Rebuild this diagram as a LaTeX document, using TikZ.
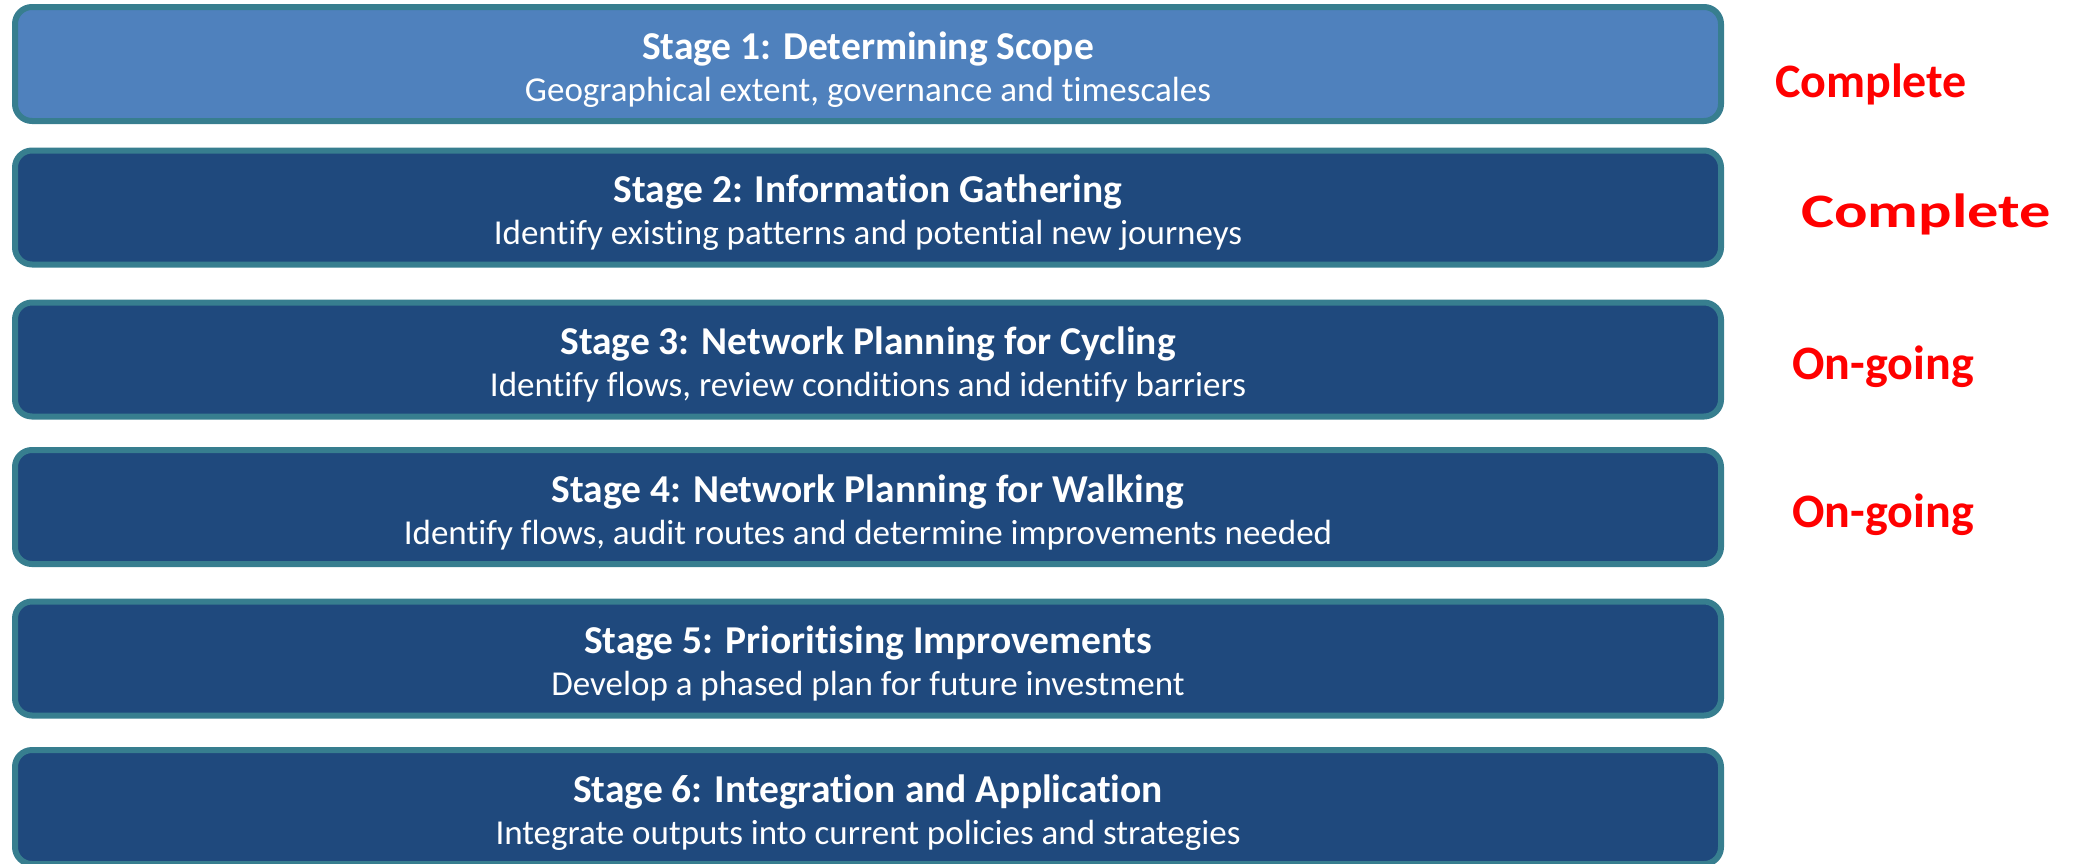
\documentclass[tikz,border=0pt]{standalone}
\usepackage{fontspec}
\setmainfont{Carlito}[Ligatures=NoCommon]
\definecolor{boxlight}{HTML}{4F81BD}
\definecolor{boxdark}{HTML}{1F497D}
\definecolor{boxedge}{HTML}{377E8F}
\definecolor{statusred}{HTML}{FF0000}
\begin{document}
\begin{tikzpicture}[x=1pt,y=-1pt,
  stagebox/.style={draw=boxedge, line width=6pt, rounded corners=17pt,
    minimum width=1706pt, minimum height=114pt, inner sep=0pt},
  stagetitle/.style={text=white, font=\fontsize{39.5}{42}\selectfont\bfseries, anchor=base},
  stagesub/.style={text=white, font=\fontsize{35}{38}\selectfont, anchor=base},
  status/.style={text=statusred, font=\fontsize{48}{52}\selectfont\bfseries, anchor=base}]
\useasboundingbox (0,0) rectangle (2076,863);
\clip (0,0) rectangle (2076,863);

% stage boxes
\node[stagebox, fill=boxlight] (s1) at (868,64) {};
\node[stagebox, fill=boxdark]  (s2) at (868,207.5) {};
\node[stagebox, fill=boxdark]  (s3) at (868,359.5) {};
\node[stagebox, fill=boxdark]  (s4) at (868,507) {};
\node[stagebox, fill=boxdark]  (s5) at (868,658.5) {};
\node[stagebox, fill=boxdark]  (s6) at (868,807) {};

% titles and descriptions
\node[stagetitle] (t1) at (868,59) {Stage 1: Determining Scope};
\node[stagesub]   (d1) at (868,101) {Geographical extent, governance and timescales};
\node[stagetitle] (t2) at (868,202.5) {Stage 2: Information Gathering};
\node[stagesub]   (d2) at (868,244.5) {Identify existing patterns and potential new journeys};
\node[stagetitle] (t3) at (868,354.5) {Stage 3: Network Planning for Cycling};
\node[stagesub]   (d3) at (868,396.5) {Identify flows, review conditions and identify barriers};
\node[stagetitle] (t4) at (868,502) {Stage 4: Network Planning for Walking};
\node[stagesub]   (d4) at (868,544) {Identify flows, audit routes and determine improvements needed};
\node[stagetitle] (t5) at (868,653.5) {Stage 5: Prioritising Improvements};
\node[stagesub]   (d5) at (868,695.5) {Develop a phased plan for future investment};
\node[stagetitle] (t6) at (868,802) {Stage 6: Integration and Application};
\node[stagesub]   (d6) at (868,844) {Integrate outputs into current policies and strategies};

% progress labels
\node[status] (c1) at (1871,97) {Complete};
\node[status, xscale=1.3] (c2) at (1926,227) {Complete};
\node[status] (c3) at (1883,379) {On-going};
\node[status] (c4) at (1883,527) {On-going};
\end{tikzpicture}
\end{document}
